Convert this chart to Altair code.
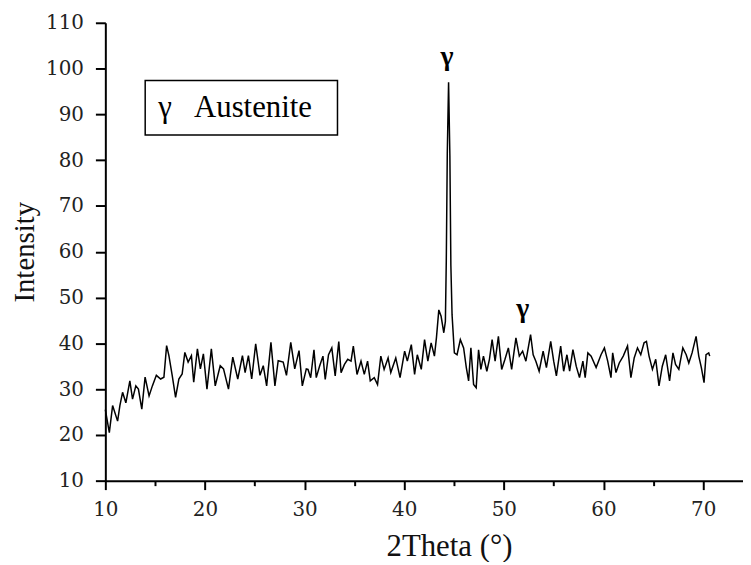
import altair as alt
import pandas as pd

# 2Theta positions (degrees) and intensities
two_theta = [
    10.00, 10.40, 10.73, 11.23, 11.46, 11.73, 12.06, 12.46, 12.73, 13.06, 13.32, 13.66, 13.99,
    14.39, 14.72, 15.12, 15.55, 15.88, 16.15, 16.38, 16.71, 17.05, 17.38, 17.71, 17.98, 18.31,
    18.64, 18.87, 19.24, 19.54, 19.84, 20.20, 20.64, 21.03, 21.53, 21.86, 22.36, 22.79, 23.29,
    23.76, 24.03, 24.36, 24.69, 25.09, 25.52, 25.85, 26.19, 26.62, 27.02, 27.35, 27.85, 28.18,
    28.61, 29.01, 29.44, 29.77, 30.17,
    30.34, 30.61, 30.94, 31.17, 31.50, 31.84, 32.07, 32.40, 32.73, 33.07, 33.43, 33.66, 34.00,
    34.33, 34.66, 34.89, 35.26, 35.66, 35.99, 36.32, 36.59, 36.99, 37.32, 37.65, 37.98, 38.38,
    38.65, 39.15, 39.58, 40.04, 40.31, 40.71, 41.04, 41.31, 41.71, 42.04, 42.37, 42.70, 43.03,
    43.23, 43.47, 43.70, 43.97, 44.13, 44.22, 44.32, 44.45, 44.58, 44.68, 44.80, 45.03, 45.30,
    45.63, 45.96, 46.23, 46.46, 46.69, 46.96, 47.22, 47.46, 47.69, 47.95, 48.29, 48.55, 48.82,
    49.12, 49.45, 49.78, 50.11, 50.45, 50.78, 51.21,
    51.55, 51.88, 52.21, 52.68, 52.94, 53.21, 53.54, 53.94, 54.27, 54.70, 55.00, 55.27, 55.70,
    56.00, 56.33, 56.60, 56.93, 57.26, 57.59, 57.93, 58.16, 58.43, 58.76, 59.26, 59.75, 60.09,
    60.42, 60.75, 60.92, 61.25, 61.58, 61.98, 62.41, 62.75, 63.08, 63.41, 63.74, 64.07, 64.31,
    64.57, 64.91, 65.24, 65.57, 65.90, 66.24, 66.63, 66.97, 67.23, 67.56, 67.96, 68.30, 68.56,
    68.89, 69.29, 69.56, 69.82, 70.09, 70.29, 70.56, 70.66,
]
intensity = [
    25.5, 20.5, 26.4, 23.0, 26.4, 29.3, 27.0, 31.8, 27.8, 30.7, 30.0, 25.6, 32.6,
    28.5, 30.7, 33.0, 32.2, 32.6, 39.5, 37.3, 33.0, 28.2, 32.2, 33.3, 38.0, 35.9,
    37.3, 31.5, 38.8, 34.4, 37.7, 30.0, 38.8, 30.7, 35.1, 34.4, 30.0, 37.0, 32.2,
    37.3, 33.6, 37.3, 32.2, 39.9, 33.0, 35.1, 30.7, 40.2, 30.7, 36.2, 35.9, 33.0,
    40.2, 34.4, 38.4, 30.7, 34.4,
    34.3, 32.5, 38.6, 32.5, 35.0, 37.2, 32.1, 37.5, 39.0, 32.9, 40.4, 33.6, 35.4,
    36.5, 36.1, 39.4, 33.2, 36.1, 33.2, 36.1, 31.8, 32.5, 31.0, 37.2, 34.3, 36.8,
    33.6, 36.8, 32.5, 38.3, 36.1, 39.7, 33.2, 37.5, 34.3, 40.8, 36.1, 40.1, 37.2,
    41.2, 47.3, 45.9, 42.3, 44.8, 58.0, 81.5, 97.0, 81.0, 57.0, 46.2, 37.9, 37.5,
    40.8, 39.0, 34.7, 31.8, 39.0, 31.0, 30.3, 38.6, 34.3, 37.2, 33.9, 36.5, 40.8,
    36.1, 41.5, 34.3, 36.5, 39.0, 34.3, 41.2,
    37.2, 38.3, 36.1, 41.9, 37.5, 36.1, 33.9, 38.3, 34.7, 40.4, 36.1, 32.9, 39.4,
    33.9, 37.5, 33.9, 38.6, 35.0, 32.5, 36.1, 32.5, 37.9, 37.2, 34.7, 37.5, 39.0,
    36.1, 32.5, 37.9, 33.6, 35.7, 37.2, 39.4, 32.5, 36.8, 39.0, 37.5, 40.1, 40.4,
    37.2, 34.3, 36.5, 30.7, 35.0, 37.5, 31.8, 37.9, 35.4, 34.3, 39.0, 37.5, 35.7,
    37.9, 41.5, 37.2, 34.7, 31.4, 37.5, 37.9, 37.2,
]

# annotations
peak_labels = ["γ", "γ"]
peak_x = [44.3, 51.9]
peak_y = [102.5, 47.5]
legend_symbol = "γ"
legend_text = "Austenite"

x_ticks = [10, 15, 20, 25, 30, 35, 40, 45, 50, 55, 60, 65, 70]
y_ticks = list(range(10, 111, 5))

df = pd.DataFrame({"x": two_theta, "y": intensity})
xs = alt.Scale(domain=[10, 74], nice=False, zero=False)
ys = alt.Scale(domain=[10, 110], nice=False, zero=False)

tick_cond_x = {"condition": {"test": "datum.value % 10 === 0", "value": 9}, "value": 5}
tick_cond_y = {"condition": {"test": "datum.value % 10 === 0", "value": 10}, "value": 6}

line = alt.Chart(df).mark_line(color="black", strokeWidth=1.5).encode(
    x=alt.X("x:Q", scale=xs,
            axis=alt.Axis(values=x_ticks, title="2Theta (°)",
                          labelExpr="datum.value % 10 === 0 ? datum.label : ''",
                          tickSize=tick_cond_x, labelPadding=10, titlePadding=12,
                          labelFlush=False, titleFontSize=31,
                          titleX=346, titleAnchor="start", titleAlign="center")),
    y=alt.Y("y:Q", scale=ys,
            axis=alt.Axis(values=y_ticks, title="Intensity",
                          labelExpr="datum.value % 10 === 0 ? datum.label : ''",
                          tickSize=tick_cond_y, labelPadding=12, titlePadding=6,
                          labelFlush=False, titleFontSize=29)),
)

box_df = pd.DataFrame({"x": [14.0], "x2": [33.3], "y": [85.5], "y2": [97.4]})
box = alt.Chart(box_df).mark_rect(fill="white", stroke="black", strokeWidth=1.5).encode(
    x=alt.X("x:Q", scale=xs), x2="x2:Q", y=alt.Y("y:Q", scale=ys), y2="y2:Q"
)

leg_df = pd.DataFrame({"x": [15.3, 18.9], "y": [91.3, 91.3], "t": [legend_symbol, legend_text]})
leg = alt.Chart(leg_df).mark_text(
    font="Liberation Serif", fontSize=31, align="left", baseline="middle", color="black"
).encode(x=alt.X("x:Q", scale=xs), y=alt.Y("y:Q", scale=ys), text="t:N")

pk_df = pd.DataFrame({"x": peak_x, "y": peak_y, "t": peak_labels})
pk = alt.Chart(pk_df).mark_text(
    font="Liberation Serif", fontSize=28, fontWeight="bold", align="center",
    baseline="middle", color="black"
).encode(x=alt.X("x:Q", scale=xs), y=alt.Y("y:Q", scale=ys), text="t:N")

chart = alt.layer(line, box, leg, pk).properties(
    width=642, height=461,
    autosize=alt.AutoSizeParams(type="none"),
    padding={"left": 98, "top": 13, "right": 0, "bottom": 80},
).configure_view(stroke=None).configure_axis(
    grid=False, domainColor="black", domainWidth=2, tickColor="black", tickWidth=2,
    labelFont="DejaVu Serif", labelFontSize=20, labelColor="#222",
    titleFont="Liberation Serif", titleFontWeight="normal", titleColor="#111",
)

chart.save("out.html", embed_options={"renderer": "svg", "actions": False})
